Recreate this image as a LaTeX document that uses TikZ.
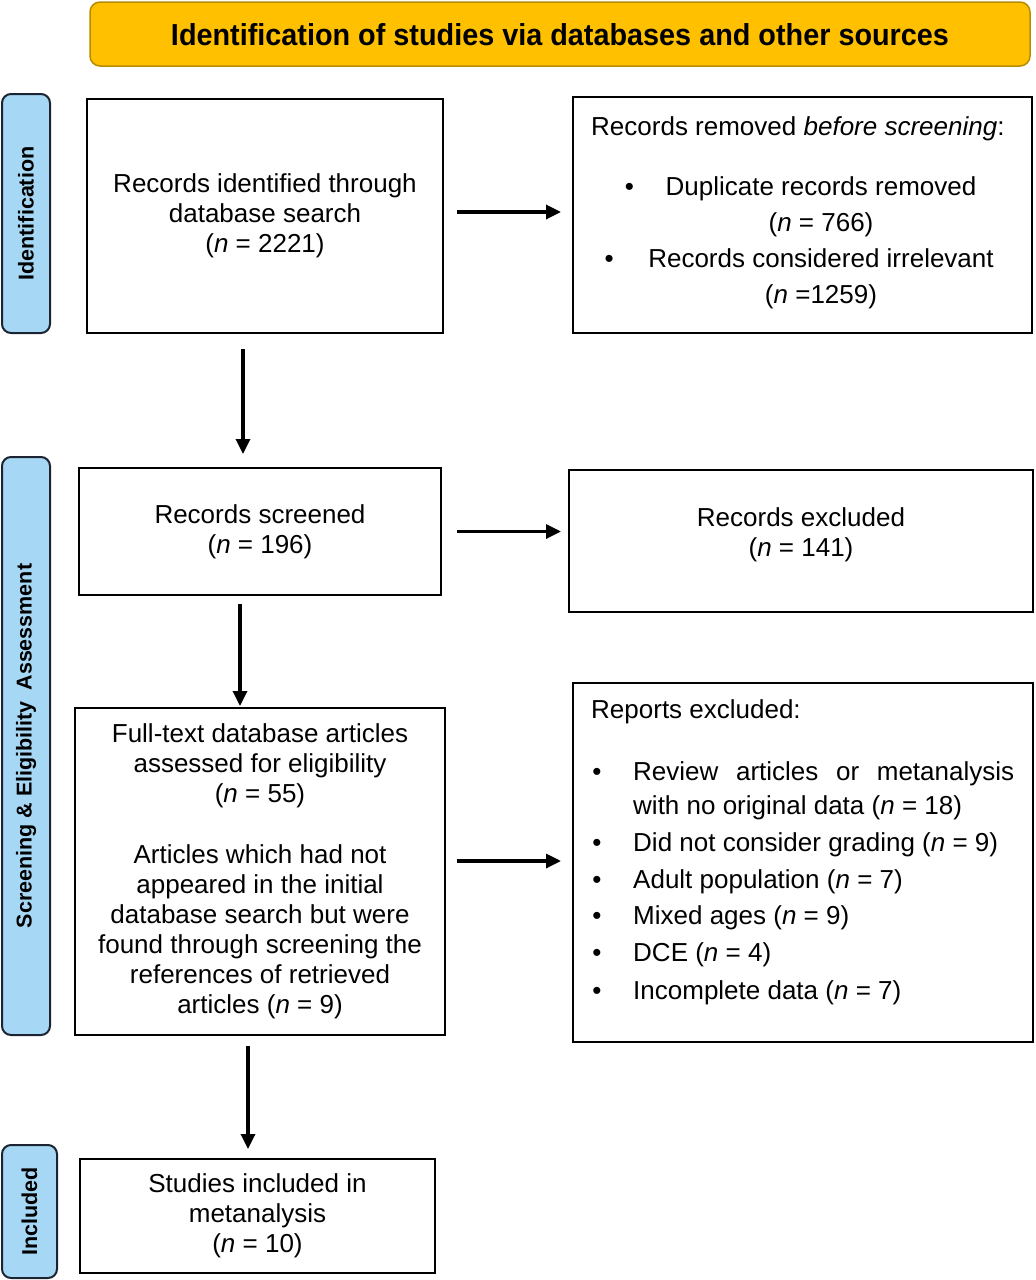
\documentclass[tikz,border=0pt]{standalone}
\usepackage{fontspec}
\setmainfont{Liberation Sans}
\usetikzlibrary{arrows.meta}
\definecolor{hdrfill}{RGB}{255,192,0}
\definecolor{hdrdraw}{RGB}{184,140,0}
\definecolor{sidefill}{RGB}{166,216,245}
\definecolor{sidedraw}{RGB}{28,36,50}
\begin{document}
\begin{tikzpicture}[x=1pt,y=-1pt,
  box/.style={draw=black, line width=2pt, fill=white, inner sep=0pt, align=center, font=\fontsize{26}{30}\selectfont},
  lbl/.style={inner sep=0pt, font=\fontsize{26}{30}\selectfont},
  side/.style={draw=sidedraw, fill=sidefill, line width=2pt, rounded corners=9pt, inner sep=0pt},
  sidetxt/.style={rotate=90, font=\fontsize{21.5}{24}\selectfont\bfseries, inner sep=0pt},
  arr/.style={line width=3.3pt, -{Triangle[length=15pt,width=14pt]}},
]
\useasboundingbox (0,0) rectangle (1036,1280);

% header
\node[draw=hdrdraw, fill=hdrfill, line width=1.5pt, rounded corners=10pt, minimum width=940pt, minimum height=64pt, inner sep=0pt] (hdr) at (560,34) {};
\node[inner sep=0pt, anchor=base] (hdrtxt) at (560,45) {\resizebox{778pt}{22pt}{\bfseries Identification of studies via databases and other sources}};

% side labels
\node[side, minimum width=48pt, minimum height=239pt] (s1) at (26,213.5) {};
\node[sidetxt] (s1t) at (s1.center) {Identification};
\node[side, minimum width=48pt, minimum height=578pt] (s2) at (26,746) {};
\node[sidetxt] (s2t) at (s2.center) {Screening \& Eligibility\enspace Assessment};
\node[side, minimum width=55pt, minimum height=133pt] (s3) at (29.5,1211.5) {};
\node[sidetxt] (s3t) at (s3.center) {Included};

% boxes
\node[box, minimum width=356pt, minimum height=234pt] (b1) at (265,216)
  {Records identified through\\database search\\(\textit{n} = 2221)};
\node[box, minimum width=459pt, minimum height=236pt] (b2) at (802.5,215) {};
\node[box, minimum width=362pt, minimum height=127pt] (b3) at (260,531.5)
  {Records screened\\(\textit{n} = 196)};
\node[box, minimum width=464pt, minimum height=142pt] (b4) at (801,541) {};
\node[box, minimum width=370pt, minimum height=327pt] (b5) at (260,871.5)
  {Full-text database articles\\assessed for eligibility\\(\textit{n} = 55)\\[31pt]Articles which had not\\appeared in the initial\\database search but were\\found through screening the\\references of retrieved\\articles (\textit{n} = 9)};
\node[box, minimum width=460pt, minimum height=359pt] (b6) at (803,862.5) {};
\node[box, minimum width=355pt, minimum height=114pt] (b7) at (257.5,1216)
  {Studies included in\\metanalysis\\(\textit{n} = 10)};

% b2 contents
\node[lbl, anchor=base west] (b2t) at (591,135) {Records removed \textit{before screening}:};
\node[lbl, anchor=base] (d1) at (821,195) {Duplicate records removed};
\node[lbl, anchor=base] (d1n) at (821,231) {(\textit{n} = 766)};
\node[lbl, anchor=base] (d2) at (821,267) {Records considered irrelevant};
\node[lbl, anchor=base] (d2n) at (821,303) {(\textit{n} =1259)};
\node[lbl, anchor=base] (bu1) at ([xshift=-36pt]d1.base west) {\textbullet};
\node[lbl, anchor=base] (bu2) at ([xshift=-39pt]d2.base west) {\textbullet};

% b4 contents
\node[lbl, align=center] (b4t) at (801,535) {Records excluded\\(\textit{n} = 141)};

% b6 contents
\node[lbl, anchor=base west] (b6t) at (591,718) {Reports excluded:};
\node[lbl, anchor=base west] (e1) at (633,780) {\hbox to 381pt{Review\hfill articles\hfill or\hfill metanalysis}};
\node[lbl, anchor=base west] (e1b) at (633,814) {with no original data (\textit{n} = 18)};
\node[lbl, anchor=base west] (e2) at (633,851) {Did not consider grading (\textit{n} = 9)};
\node[lbl, anchor=base west] (e3) at (633,888) {Adult population (\textit{n} = 7)};
\node[lbl, anchor=base west] (e4) at (633,924) {Mixed ages (\textit{n} = 9)};
\node[lbl, anchor=base west] (e5) at (633,961) {DCE (\textit{n} = 4)};
\node[lbl, anchor=base west] (e6) at (633,999) {Incomplete data (\textit{n} = 7)};
\foreach \e in {e1,e2,e3,e4,e5,e6}
  \node[lbl, anchor=base] at ([xshift=-36pt]\e.base west) {\textbullet};

% arrows
\path (b1.east) ++(0,-4) coordinate (a1s);
\draw[arr, shorten <=13pt, shorten >=11pt] (a1s) -- (a1s -| b2.west);
\path (b1.south) ++(-22,0) coordinate (a2s);
\draw[arr, shorten <=15pt, shorten >=13pt] (a2s) -- (a2s |- b3.north);
\draw[arr, shorten <=15pt, shorten >=7pt] (b3.east) -- (b3.east -| b4.west);
\path (b3.south) ++(-20,0) coordinate (a4s);
\draw[arr, shorten <=8pt, shorten >=1pt] (a4s) -- (a4s |- b5.north);
\path (b5.east) ++(0,-10.5) coordinate (a5s);
\draw[arr, shorten <=11pt, shorten >=11pt] (a5s) -- (a5s -| b6.west);
\path (b5.south) ++(-12,0) coordinate (a6s);
\draw[arr, shorten <=10pt, shorten >=9pt] (a6s) -- (a6s |- b7.north);
\end{tikzpicture}
\end{document}
